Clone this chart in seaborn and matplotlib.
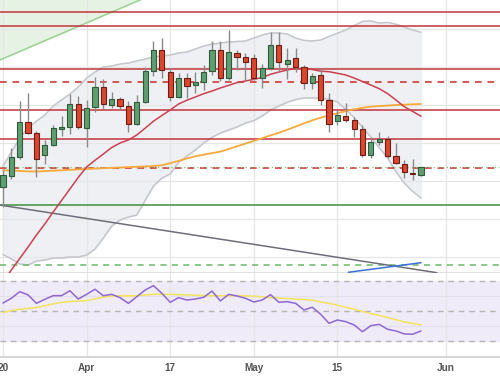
import numpy as np
import pandas as pd
import seaborn as sns
import matplotlib.pyplot as plt

# daily candles (price points)
opens  = [113, 124, 143, 178, 167, 145, 155, 171.5, 173, 196, 172, 193, 213, 195, 201, 194, 176, 198, 229, 250,
          228, 203, 222, 215, 218, 229, 250, 222, 247, 243, 242, 222, 232, 255, 236, 242, 233, 217, 225, 200,
          179, 184, 180, 171, 145, 158, 161, 144, 136, 127, 125]
highs  = [130, 152, 199, 207, 169, 160, 175, 184, 206, 204, 200, 223, 221, 208, 203, 199, 205, 233, 259, 262,
          232, 227, 227, 228, 235, 259, 259, 270, 250, 247, 246, 236, 268, 268, 252, 252, 235, 227, 232, 207,
          190, 197, 183, 175, 163, 168, 164, 157, 140, 141, 133]
lows   = [93, 121, 141, 166, 123, 136, 154, 164, 166, 171, 153, 188, 191, 192, 190, 168, 175, 197, 224, 222,
          199, 202, 202, 207, 210, 225, 219, 220, 230, 220, 220, 212, 230, 228, 221, 228, 211, 211, 195, 168,
          175, 178, 163, 143, 142, 155, 142, 136.5, 122, 120, 124]
closes = [125, 143, 178, 167, 141, 155, 172, 172, 196, 173, 192, 213, 196, 201, 194, 176, 198, 229, 250, 230,
          203, 222, 214, 218, 228, 250, 222, 248, 243, 238, 222, 232, 255, 238, 240, 233, 217, 224, 200, 176,
          185, 180, 171, 145, 158, 161, 144, 137, 128, 126, 133]

# bollinger bands and moving averages
bb_upper = [134, 148, 162, 172, 179, 185, 194, 200, 206, 213, 222, 228, 233, 234, 236, 237, 239, 241, 243, 244,
            245, 247, 248, 251, 254, 256, 257, 258, 258.5, 259, 262, 265, 267, 267, 266, 262, 259.6, 259, 260, 263.6,
            266.8, 270, 274.4, 278.6, 279, 277, 277.6, 275.8, 273, 270, 267.7]
bb_lower = [45.5, 41, 36, 35, 39, 40, 42, 42, 43, 43, 45, 51, 62, 74, 80, 83, 85, 99.6, 114, 122,
            126, 137.6, 144, 150, 157, 162.7, 167, 170, 173, 177, 179.4, 184, 190, 194, 197.7, 200.5, 202, 202, 202, 200.8,
            198, 190.6, 182.4, 172.8, 162.7, 152.5, 142, 128.5, 116.8, 108.6, 102]
ma_red = [18, 30, 41.5, 53, 65, 76, 88, 99.5, 111, 122.6, 133, 139.7, 146, 152.5, 157, 160, 165, 171.8, 178.8, 184.5,
          190, 196, 199.8, 203, 206.3, 209, 212, 214.7, 217.4, 219, 220.6, 222.5, 225.7, 228, 230, 231.6, 231.3, 230.5, 228.8, 228.3,
          226.7, 225, 222, 218.5, 215, 211.3, 206.4, 200, 193.3, 188.6, 183.8]
ma_orange = [129.8, 129.4, 129, 128.6, 128.5, 128.9, 129.3, 129.7, 130.2, 130.6, 131, 131.4, 131.8, 132.2, 132.5, 132.9, 133.2, 133.6, 134, 134.7,
             136.8, 139.1, 141.5, 143.7, 145.3, 146.9, 148.4, 151, 153.7, 156.4, 159.1, 161.8, 164.6, 167.3, 170.3, 173.4, 176.6, 179.7, 182.3, 184.7,
             186.8, 189, 190.7, 192.1, 193.4, 193.9, 194.4, 195, 195.3, 195.7, 196]

# rsi panel
rsi = [55.1, 58.3, 62.7, 60.5, 54.9, 57.6, 60.0, 60.0, 63.3, 57.8, 60.9, 64.3, 60.0, 60.9, 58.7, 54.9, 59.3, 63.8, 66.7, 61.6,
       55.6, 58.7, 57.1, 57.8, 58.9, 63.1, 56.5, 60.9, 59.8, 58.3, 55.8, 57.1, 60.7, 55.6, 56.0, 54.9, 50.5, 52.3, 47.6, 41.6,
       43.8, 42.7, 40.5, 36.0, 40.0, 40.9, 37.6, 36.5, 34.5, 34.3, 36.5]
rsi_ma = [48.8, 50.1, 50.9, 51.5, 52.1, 53.3, 54.5, 55.5, 56.1, 56.4, 56.7, 57.9, 59.1, 59.8, 59.9, 59.9, 60.0, 60.5, 60.9, 60.9,
          60.9, 60.7, 60.5, 60.3, 60.1, 60.0, 60.0, 60.0, 60.0, 59.9, 59.7, 59.2, 58.7, 58.4, 58.1, 57.7, 57.5, 57.0, 55.8, 54.9,
          53.7, 52.3, 51.0, 49.5, 48.1, 46.8, 45.5, 44.0, 42.5, 41.5, 40.5]

# drawn levels / trendlines
res_solid = [288.3, 274.3, 231, 190, 161.3]
res_dashed = [218.3, 132.3]
sup_dotted = [132.6]
sup_solid = [94.7]
sup_dashed = [35]
grey_trend_x, grey_trend_y = [-0.4, 51.9], [95, 27.3]
blue_trend_x, blue_trend_y = [41.3, 50], [27.7, 37.3]
channel_x, channel_y = [-0.4, 20], [240, 313]

tick_pos = [0, 10, 20, 30, 40, 53]
tick_labels = ["20", "Apr", "17", "May", "15", "Jun"]
grid_levels = [270.7, 232.7, 194.7, 156.7, 118.7, 80.7, 42.7]

df = pd.DataFrame({"open": opens, "high": highs, "low": lows, "close": closes,
                   "upper": bb_upper, "lower": bb_lower, "ma_red": ma_red, "ma_orange": ma_orange,
                   "rsi": rsi, "rsi_ma": rsi_ma})
df["i"] = np.arange(len(df))

sns.set_theme(style="white")
plt.rcParams['font.family'] = ['Liberation Sans', 'DejaVu Sans']

fig = plt.figure(figsize=(5, 3.83), dpi=100)
ax = fig.add_axes([0, 0.2872, 1, 0.7128])
ax2 = fig.add_axes([0, 0.0679, 1, 0.2193], sharex=ax)

xmin, xmax = -0.36, 59.45
ymin, ymax = 27, 300

# grid
for g in grid_levels:
    ax.axhline(g, color="#e6e6e6", lw=0.9, zorder=1)
for t in tick_pos:
    ax.axvline(t, color="#e6e6e6", lw=0.9, zorder=1)
    ax2.axvline(t, color="#e6e6e6", lw=0.9, zorder=1)

# green channel shading top-left
ax.fill_between(channel_x, channel_y, 400, color="#e6f3e4", zorder=0.5)
ax.plot(channel_x, channel_y, color="#96d08f", lw=1.0, zorder=2)

# bollinger
ax.fill_between(df["i"], df["lower"], df["upper"], color="#eceef2", alpha=0.85, zorder=0.8)
sns.lineplot(data=df, x="i", y="upper", ax=ax, color="#c4c6cb", lw=1.1, zorder=2)
sns.lineplot(data=df, x="i", y="lower", ax=ax, color="#c4c6cb", lw=1.1, zorder=2)

# levels
for v in res_solid:
    ax.axhline(v, color="#c2363c", lw=1.3, alpha=0.85, zorder=3)
for v in res_dashed:
    ax.axhline(v, color="#cf3a3a", lw=1.2, ls=(0, (4, 3.5)), zorder=3)
for v in sup_dotted:
    ax.axhline(v, color="#7cc57a", lw=0.9, ls=(0, (1, 2.5)), zorder=3)
for v in sup_solid:
    ax.axhline(v, color="#3f8f3f", lw=1.1, zorder=3)
for v in sup_dashed:
    ax.axhline(v, color="#6ab868", lw=1.1, ls=(0, (4, 3.5)), zorder=3)

ax.plot(grey_trend_x, grey_trend_y, color="#6e6e78", lw=1.1, zorder=3)
ax.plot(blue_trend_x, blue_trend_y, color="#3c6fd8", lw=1.1, zorder=3)

# moving averages
sns.lineplot(data=df, x="i", y="ma_orange", ax=ax, color="#f7a93b", lw=1.3, zorder=4)
sns.lineplot(data=df, x="i", y="ma_red", ax=ax, color="#cc4050", lw=1.1, zorder=4)

# candles
up = df["close"] >= df["open"]
ax.vlines(df["i"], df["low"], df["high"], color="#8a8a8a", lw=1.0, zorder=5)
body_lo = np.minimum(df["open"], df["close"])
body_h = np.maximum((df["close"] - df["open"]).abs(), 1.2)
ax.bar(df["i"][up], body_h[up], bottom=body_lo[up], width=0.62,
       color="#5f9e6f", edgecolor="#2f5a3b", lw=0.8, zorder=6)
ax.bar(df["i"][~up], body_h[~up], bottom=body_lo[~up], width=0.62,
       color="#d9472f", edgecolor="#6e1d14", lw=0.8, zorder=6)

ax.set_xlim(xmin, xmax)
ax.set_ylim(ymin, ymax)
ax.set_xlabel("")
ax.set_ylabel("")
ax.set_yticks([])
ax.tick_params(axis="x", labelbottom=False, length=0)
for s in ["top", "left", "right"]:
    ax.spines[s].set_visible(False)
ax.spines["bottom"].set_color("#dcdcdc")

# RSI panel
ax2.axhspan(30, 70, color="#efebf8", zorder=0.5)
for v in [40, 60]:
    ax2.axhline(v, color="#e2e0ea", lw=0.9, zorder=1)
for v in [30, 50, 70]:
    ax2.axhline(v, color="#b5b5b5", lw=1.0, ls=(0, (4, 3.5)), zorder=2)
sns.lineplot(data=df, x="i", y="rsi_ma", ax=ax2, color="#f3e35a", lw=1.1, zorder=3)
sns.lineplot(data=df, x="i", y="rsi", ax=ax2, color="#8c68d0", lw=1.1, zorder=4)
ax2.set_ylim(19.13, 75.13)
ax2.set_xlim(xmin, xmax)
ax2.set_xlabel("")
ax2.set_ylabel("")
ax2.set_yticks([])
ax2.set_xticks(tick_pos)
ax2.set_xticklabels(tick_labels, fontsize=7.2, fontweight="bold", color="#555555")
ax2.tick_params(axis="x", length=0, pad=4)
for s in ["top", "left", "right"]:
    ax2.spines[s].set_visible(False)
ax2.spines["bottom"].set_color("#d0d0d0")

fig.savefig("out.png", dpi=100)
